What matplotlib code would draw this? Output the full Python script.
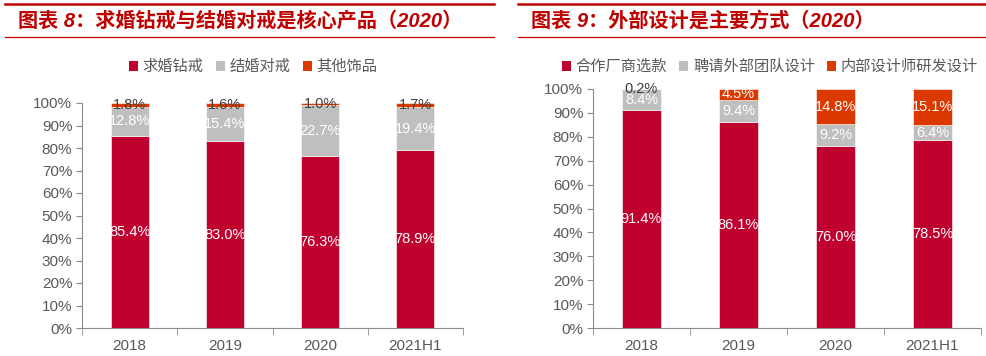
import matplotlib
matplotlib.use("Agg")
import matplotlib.pyplot as plt
from matplotlib.patches import Patch
from matplotlib.lines import Line2D

plt.rcParams['font.family'] = ['Liberation Sans', 'Noto Sans CJK SC', 'DejaVu Sans']

years = ["2018", "2019", "2020", "2021H1"]

# chart 8
left_title = "图表 8：求婚钻戒与结婚对戒是核心产品（2020）"
left_names = ["求婚钻戒", "结婚对戒", "其他饰品"]
proposal = [85.4, 83.0, 76.3, 78.9]
wedding = [12.8, 15.4, 22.7, 19.4]
other = [1.8, 1.6, 1.0, 1.7]

# chart 9
right_title = "图表 9：外部设计是主要方式（2020）"
right_names = ["合作厂商选款", "聘请外部团队设计", "内部设计师研发设计"]
partner = [91.4, 86.1, 76.0, 78.5]
external = [8.4, 9.4, 9.2, 6.4]
internal = [0.2, 4.5, 14.8, 15.1]

RED = "#C0002F"
GRAY = "#BFBFBF"
ORANGE = "#DC3900"
TITLE_RED = "#C00000"
AXIS = "#8C8C8C"
TXT = "#595959"

fig = plt.figure(figsize=(9.87, 3.56), dpi=100)


def header(x0, x1, title):
    fig.add_artist(Line2D([x0 / 987, x1 / 987], [1 - 4 / 356] * 2, color=TITLE_RED, lw=1.8))
    fig.add_artist(Line2D([x0 / 987, x1 / 987], [1 - 37 / 356] * 2, color=TITLE_RED, lw=0.9))
    fig.text((x0 + 13) / 987, 1 - 21 / 356, title, color=TITLE_RED, fontsize=14.5,
             fontweight="bold", fontstyle="italic", va="center", ha="left")


def panel(rect, series, names, label_colors, legend_x):
    ax = fig.add_axes(rect)
    x = range(len(years))
    bottom = [0.0] * len(years)
    colors = [RED, GRAY, ORANGE]
    for vals, col, lc in zip(series, colors, label_colors):
        ax.bar(x, vals, bottom=bottom, width=0.4, color=col, edgecolor="white", linewidth=0.4)
        for i, v in enumerate(vals):
            c = lc[i] if isinstance(lc, list) else lc
            ax.text(i, bottom[i] + v / 2, f"{v:.1f}%", ha="center", va="center",
                    color=c, fontsize=10.5)
        bottom = [b + v for b, v in zip(bottom, vals)]
    ax.set_ylim(0, 100)
    ax.set_xlim(-0.5, len(years) - 0.5)
    ax.set_yticks(range(0, 101, 10))
    ax.set_yticklabels([f"{t}%" for t in range(0, 101, 10)])
    ax.set_xticks(list(x))
    ax.set_xticklabels(years)
    ax.set_xticks([i - 0.5 for i in range(len(years) + 1)], minor=True)
    ax.tick_params(axis="x", which="major", length=0, pad=8, labelsize=11, colors=TXT)
    ax.tick_params(axis="x", which="minor", length=5, color=AXIS)
    ax.tick_params(axis="y", length=4, color=AXIS, labelsize=11, labelcolor=TXT, pad=3)
    for s in ["top", "right"]:
        ax.spines[s].set_visible(False)
    for s in ["left", "bottom"]:
        ax.spines[s].set_color(AXIS)
    handles = [Patch(facecolor=c) for c in colors]
    fig.legend(handles, names, loc="center", bbox_to_anchor=(legend_x / 987, 1 - 67 / 356),
               ncol=3, frameon=False, fontsize=11, labelcolor=TXT, handlelength=0.6,
               handleheight=0.6, handletextpad=0.3, columnspacing=0.8)
    return ax


header(5, 494, left_title)
header(518, 987, right_title)

panel([82 / 987, 1 - 328 / 356, 381 / 987, 225 / 356],
      [proposal, wedding, other], left_names, ["white", "white", "#404040"], 253)
panel([593 / 987, 1 - 328 / 356, 388 / 987, 239 / 356],
      [partner, external, internal], right_names,
      ["white", "white", ["#404040", "white", "white", "white"]], 770)

fig.savefig("out.png", dpi=100)
